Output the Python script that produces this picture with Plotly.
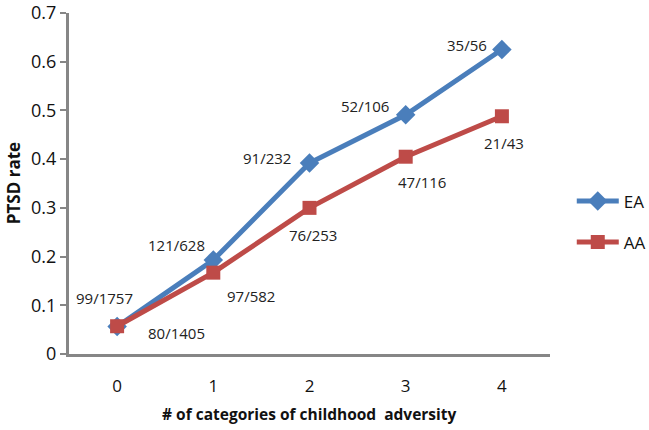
import plotly.graph_objects as go

categories = ["0", "1", "2", "3", "4"]
ea_rate = [0.0563, 0.193, 0.392, 0.491, 0.625]
aa_rate = [0.057, 0.167, 0.300, 0.405, 0.488]
ea_labels = ["99/1757", "121/628", "91/232", "52/106", "35/56"]
aa_labels = ["80/1405", "97/582", "76/253", "47/116", "21/43"]
y_ticks = [0, 0.1, 0.2, 0.3, 0.4, 0.5, 0.6, 0.7]

# label offsets in pixels (dx, dy) - styling only
ea_offsets = [(-13, 29), (-37, 15), (-43, 5), (-41, 9), (-35, 5)]
aa_offsets = [(59, -7), (38, -23), (3, -27), (16, -25), (2, -27)]

BLUE = "#4A7EBB"
RED = "#BE4B48"
FONT = "Open Sans"

fig = go.Figure()
fig.add_trace(go.Scatter(x=categories, y=ea_rate, name="EA", mode="lines+markers",
                         legendgroup="ea",
                         line=dict(color=BLUE, width=5),
                         marker=dict(symbol="diamond", size=15, color=BLUE)))
fig.add_trace(go.Scatter(x=categories, y=aa_rate, name="AA", mode="lines+markers",
                         legendgroup="aa",
                         line=dict(color=RED, width=5),
                         marker=dict(symbol="square", size=14, color=RED)))

annotations = []
for xs, ys, labs, offs in [(categories, ea_rate, ea_labels, ea_offsets),
                           (categories, aa_rate, aa_labels, aa_offsets)]:
    for x, y, t, (dx, dy) in zip(xs, ys, labs, offs):
        annotations.append(dict(x=x, y=y, text=t, showarrow=False,
                                xshift=dx, yshift=dy,
                                font=dict(family=FONT, size=15, color="#222222")))

# axis titles as paper annotations for exact placement
annotations.append(dict(xref="paper", yref="paper", x=0.5, y=-0.175, yanchor="middle",
                        text="<b># of categories of childhood  adversity</b>", showarrow=False,
                        font=dict(family=FONT, size=15.5, color="#111111")))
annotations.append(dict(xref="paper", yref="paper", x=-0.115, y=0.5, xanchor="center",
                        yanchor="middle", textangle=-90,
                        text="<b>PTSD rate</b>", showarrow=False,
                        font=dict(family=FONT, size=17, color="#111111")))

fig.update_layout(
    width=649, height=430,
    margin=dict(l=69, r=99, t=13, b=76),
    plot_bgcolor="white", paper_bgcolor="white",
    font=dict(family=FONT, color="#111111"),
    annotations=annotations,
    showlegend=True,
    legend=dict(xref="container", yref="container", x=0.881, y=0.484,
                xanchor="left", yanchor="middle",
                font=dict(family=FONT, size=17, color="#111111"),
                tracegroupgap=16, itemwidth=42),
    xaxis=dict(type="category", range=[-0.5, 4.5], showgrid=False, automargin=False,
               showline=True, linecolor="#868686", linewidth=3,
               ticks="", ticklabelstandoff=15,
               tickfont=dict(family=FONT, size=17, color="#111111")),
    yaxis=dict(range=[0, 0.7], tickmode="array", tickvals=y_ticks, automargin=False,
               ticktext=[f"{v:g}" for v in y_ticks], showgrid=False,
               ticklabeloverflow="allow",
               showline=True, linecolor="#868686", linewidth=3,
               ticks="outside", ticklen=6, tickwidth=2, tickcolor="#868686",
               zeroline=False,
               tickfont=dict(family=FONT, size=18, color="#111111")),
)

fig.write_html("out.html", config={"displayModeBar": False},
               post_script="document.body.style.margin='0';document.body.style.overflow='hidden';")
